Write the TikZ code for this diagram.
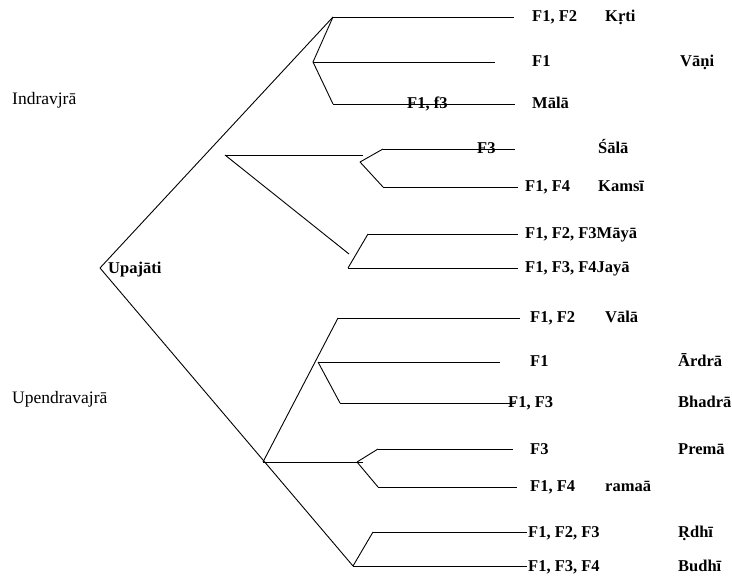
\documentclass[tikz,border=0pt]{standalone}
\usepackage{fontspec}
\setmainfont{Liberation Serif}
\usetikzlibrary{calc}
\tikzset{
  branch/.style={line width=0.9pt},
  metre/.style={font=\fontsize{17.5}{20}\selectfont, anchor=base west, inner sep=0pt},
  foot/.style={font=\bfseries\fontsize{16.5}{19}\selectfont, anchor=base west, inner sep=0pt}
}

\begin{document}
\begin{tikzpicture}[x=1pt, y=-1pt]
			%%%%% START %%%%%
			\useasboundingbox (0,0) rectangle (732,580);
			
			\node[metre] (indra) at (12,105) {Indravjrā};
			\node[metre] (upendra) at (12,404) {Upendravajrā};
			\node[foot] (upajati) at (108,274) {Upajāti};
			
			\coordinate (root) at (100,268);
			\coordinate (indJ) at (225,155);
			\coordinate (indE) at (363,155);
			\coordinate (indS) at (360,162);
			\coordinate (indT) at (349,254);
			\coordinate (upJ) at (263,462);
			\coordinate (upE) at (363,462);
			\coordinate (preS) at (357,462);
			
			% Indravjra side
			\coordinate (kritiS) at (333,17);   \coordinate (kritiE) at (514,17);
			\node[foot] (kritiF) at (532,22) {F1, F2};
			\node[foot] (kritiN) at (605,22) {Kṛti};
			
			\coordinate (vaniS) at (313,62);    \coordinate (vaniE) at (495,62);
			\node[foot] (vaniF) at (532,67) {F1};
			\node[foot] (vaniN) at (680,67) {Vāṇi};
			
			\coordinate (malaS) at (333,104);   \coordinate (malaE) at (515,104);
			\node[foot] (malaF) at (407,109) {F1, f3};
			\node[foot] (malaN) at (532,109) {Mālā};
			
			\coordinate (salaS) at (383,149);   \coordinate (salaE) at (515,149);
			\node[foot] (salaF) at (477,154) {F3};
			\node[foot] (salaN) at (598,154) {Śālā};
			
			\coordinate (kamsiS) at (383,187);  \coordinate (kamsiE) at (518,187);
			\node[foot] (kamsiF) at (525,192) {F1, F4};
			\node[foot] (kamsiN) at (598,192) {Kamsī};
			
			\coordinate (mayaS) at (368,234);   \coordinate (mayaE) at (518,234);
			\node[foot] (mayaF) at (525,239) {F1, F2, F3Māyā};
			
			\coordinate (jayaS) at (348,268);   \coordinate (jayaE) at (518,268);
			\node[foot] (jayaF) at (525,273) {F1, F3, F4Jayā};
			
			% Upendravajra side
			\coordinate (valaS) at (338,318);   \coordinate (valaE) at (520,318);
			\node[foot] (valaF) at (530,323) {F1, F2};
			\node[foot] (valaN) at (605,323) {Vālā};
			
			\coordinate (ardraS) at (318,362);  \coordinate (ardraE) at (500,362);
			\node[foot] (ardraF) at (530,367) {F1};
			\node[foot] (ardraN) at (678,367) {Ārdrā};
			
			\coordinate (bhadraS) at (340,403); \coordinate (bhadraE) at (515,403);
			\node[foot] (bhadraF) at (508,408) {F1, F3};
			\node[foot] (bhadraN) at (678,408) {Bhadrā};
			
			\coordinate (premaS) at (378,449);  \coordinate (premaE) at (513,449);
			\node[foot] (premaF) at (530,454) {F3};
			\node[foot] (premaN) at (678,454) {Premā};
			
			\coordinate (ramaaS) at (378,487);  \coordinate (ramaaE) at (517,487);
			\node[foot] (ramaaF) at (530,492) {F1, F4};
			\node[foot] (ramaaN) at (605,492) {ramaā};
			
			\coordinate (rdhiS) at (373,532);   \coordinate (rdhiE) at (527,532);
			\node[foot] (rdhiF) at (528,537) {F1, F2, F3};
			\node[foot] (rdhiN) at (678,537) {Ṛdhī};
			
			\coordinate (budhiS) at (353,566);  \coordinate (budhiE) at (527,566);
			\node[foot] (budhiF) at (528,571) {F1, F3, F4};
			\node[foot] (budhiN) at (678,571) {Budhī};
			
			% branches
			\draw[branch] (root) -- (kritiS);
			\draw[branch] (root) -- (budhiS);
			
			\draw[branch] (kritiS) -- (kritiE);
			\draw[branch] (vaniS) -- (vaniE);
			\draw[branch] (malaS) -- (malaE);
			\draw[branch] (vaniS) -- (kritiS);
			\draw[branch] (vaniS) -- (malaS);
			
			\draw[branch] (indJ) -- (indE);
			\draw[branch] (indS) -- (salaS);
			\draw[branch] (indS) -- (kamsiS);
			\draw[branch] (salaS) -- (salaE);
			\draw[branch] (kamsiS) -- (kamsiE);
			
			\draw[branch] (indJ) -- (indT);
			\draw[branch] (jayaS) -- (mayaS);
			\draw[branch] (mayaS) -- (mayaE);
			\draw[branch] (jayaS) -- (jayaE);
			
			\draw[branch] (upJ) -- (valaS);
			\draw[branch] (valaS) -- (valaE);
			\draw[branch] (ardraS) -- (ardraE);
			\draw[branch] (ardraS) -- (bhadraS);
			\draw[branch] (bhadraS) -- (bhadraE);
			
			\draw[branch] (upJ) -- (upE);
			\draw[branch] (preS) -- (premaS);
			\draw[branch] (preS) -- (ramaaS);
			\draw[branch] (premaS) -- (premaE);
			\draw[branch] (ramaaS) -- (ramaaE);
			
			\draw[branch] (budhiS) -- (rdhiS);
			\draw[branch] (rdhiS) -- (rdhiE);
			\draw[branch] (budhiS) -- (budhiE);
			
			%%%%% END %%%%%
\end{tikzpicture}
\end{document}
